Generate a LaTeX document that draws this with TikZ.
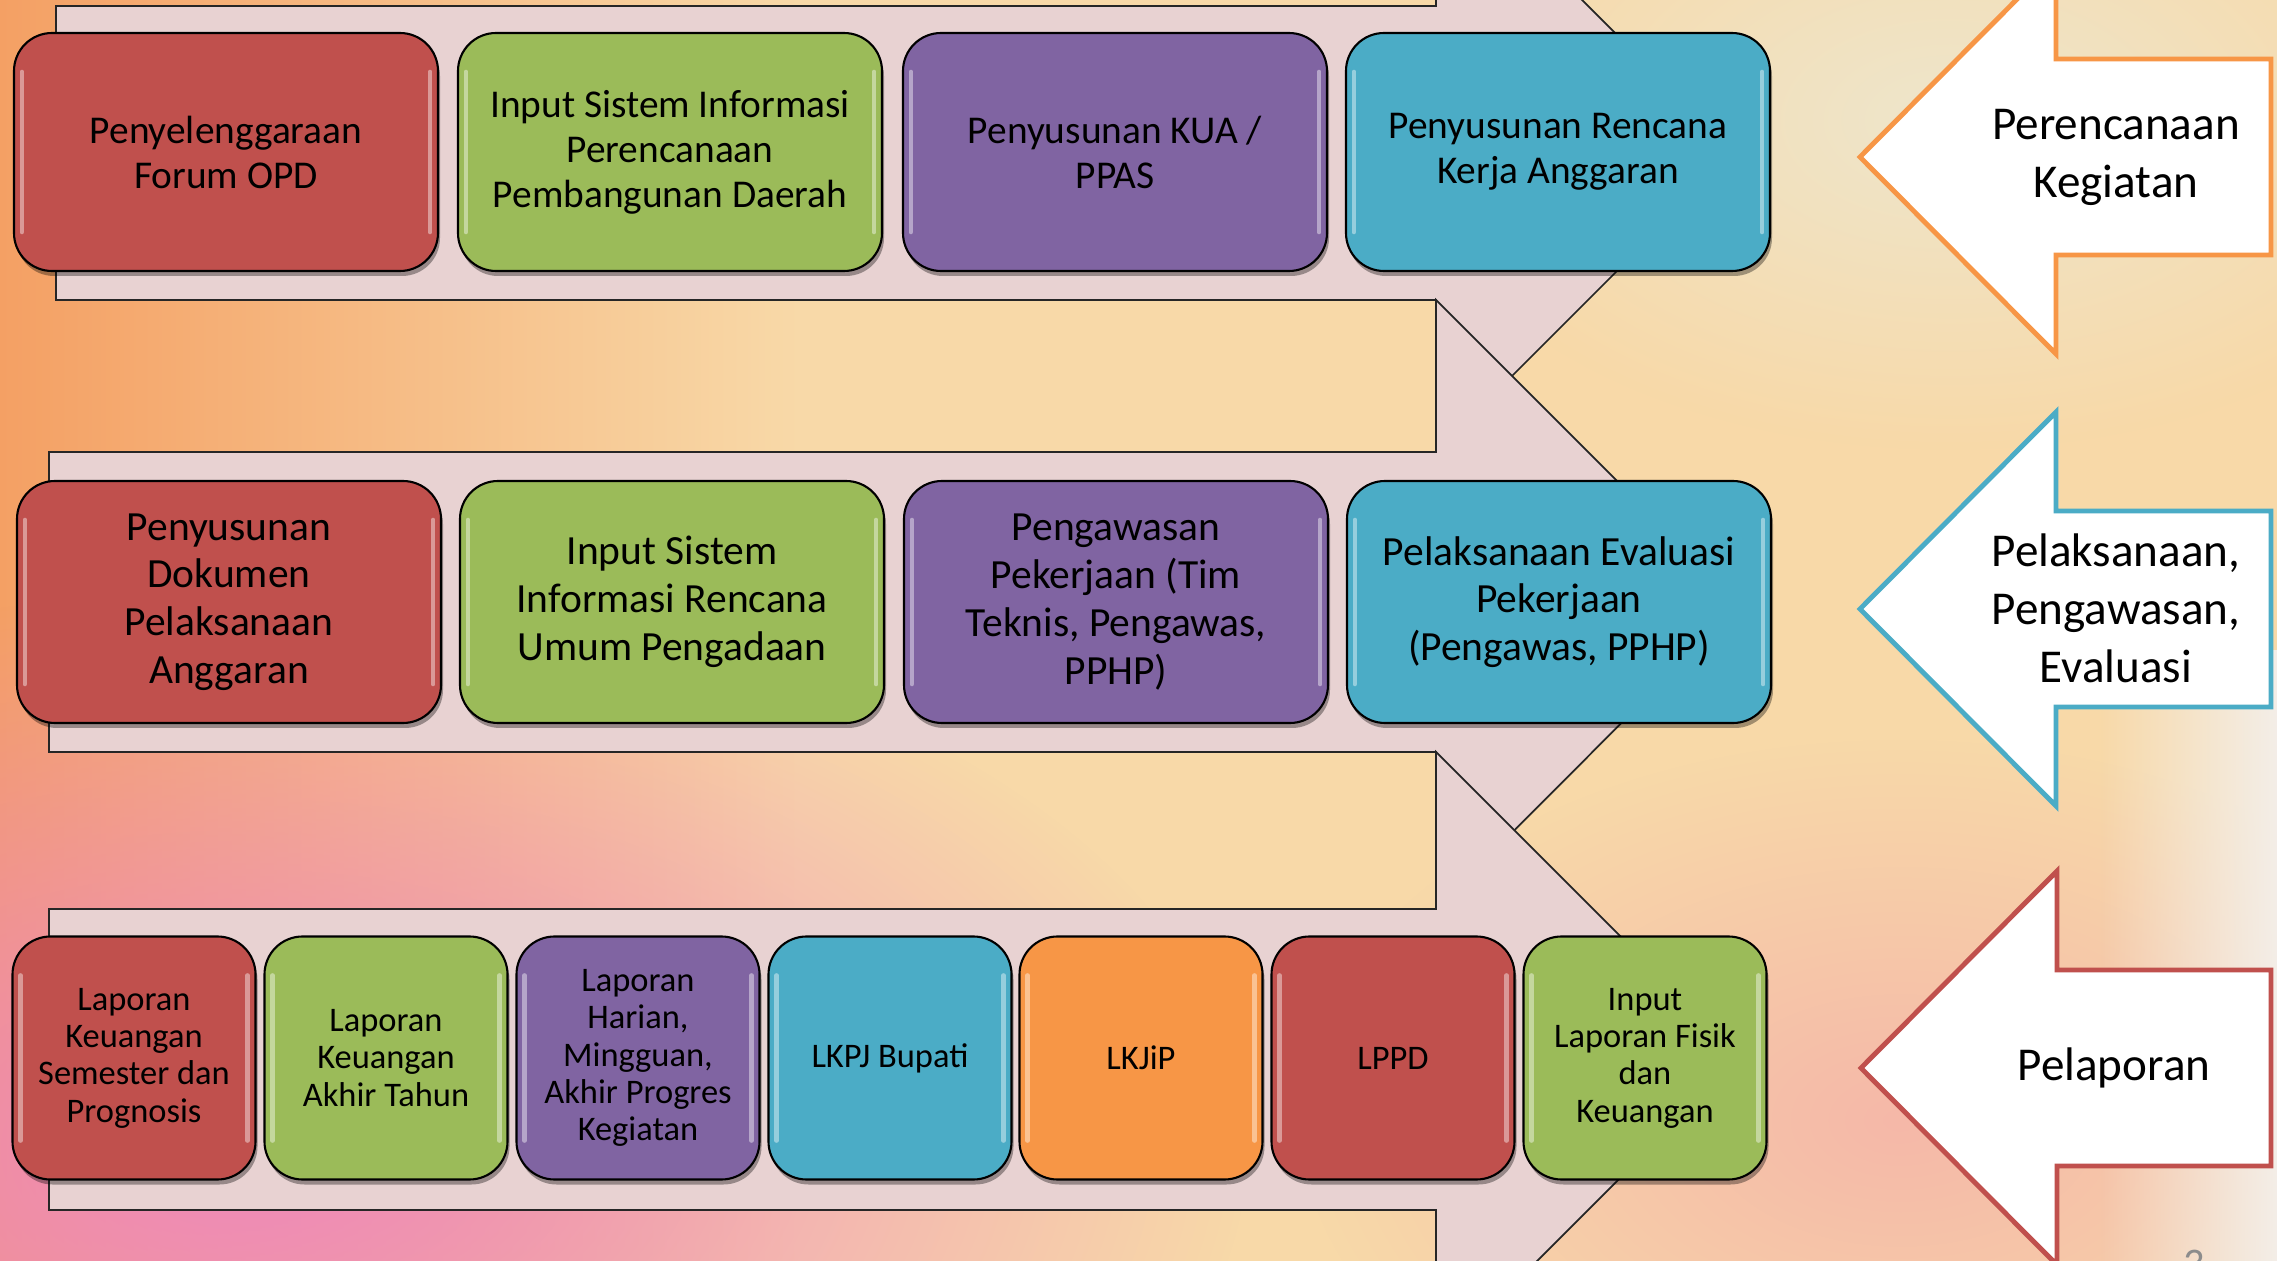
\documentclass[tikz,border=0pt]{standalone}
\usepackage{fontspec}
\setmainfont{Carlito}
\usetikzlibrary{shadows,fadings}
\definecolor{cRed}{HTML}{C0504D}
\definecolor{cGreen}{HTML}{9BBB59}
\definecolor{cPurple}{HTML}{8064A2}
\definecolor{cTeal}{HTML}{4BACC6}
\definecolor{cOrange}{HTML}{F79646}
\definecolor{bandPink}{HTML}{E8D2D2}
\definecolor{bgCream}{HTML}{F8D9A8}
\definecolor{bgOrange}{HTML}{F4A064}
\definecolor{bgLight}{HTML}{EEE6CC}
\definecolor{bgPink}{HTML}{EE88BC}
\definecolor{bgPeach}{HTML}{F5B8A8}
\definecolor{bgWhite}{HTML}{F3EEE8}
\tikzfading[name=faderight, left color=transparent!100, right color=transparent!0]
\tikzfading[name=blob, inner color=transparent!0, outer color=transparent!100]
\tikzset{
  band/.style={fill=bandPink, draw=black!85, line width=0.5pt, line join=miter},
  pbox/.style={draw=black, line width=0.6pt, rounded corners=0.38cm, align=center,
    text=black, inner sep=0pt,
    drop shadow={shadow xshift=0.02cm, shadow yshift=-0.05cm, opacity=0.35, fill=black}},
  gloss/.style={white, opacity=0.42, line width=1.3pt, line cap=round},
  r1/.style={font=\fontsize{11.2}{12.8}\selectfont},
  r2/.style={font=\fontsize{11.8}{13.6}\selectfont},
  r3/.style={font=\fontsize{9.8}{10.6}\selectfont},
  arrowshape/.style={fill=white, line width=1.4pt, line join=miter},
  arrtext/.style={font=\fontsize{13.4}{16.5}\selectfont, align=center, text=black, inner sep=0pt}
}
\newcommand\procbox[7][]{%
  \node[pbox,#1,fill=#6,minimum width=#4*0.01cm,minimum height=#5*0.01cm] (#2) at (#3) {#7};
  \draw[gloss] ([xshift=0.09cm,yshift=0.4cm]#2.south west) -- ([xshift=0.09cm,yshift=-0.4cm]#2.north west);
  \draw[gloss] ([xshift=-0.09cm,yshift=0.4cm]#2.south east) -- ([xshift=-0.09cm,yshift=-0.4cm]#2.north east);
}
\begin{document}
\begin{tikzpicture}[x=0.01cm,y=-0.01cm]
\useasboundingbox (0,0) rectangle (2277,1261);
\begin{scope}
\clip (0,0) rectangle (2277,1261);
% background
\fill[bgCream] (0,0) rectangle (2277,1261);
\shade[left color=bgOrange, right color=bgCream] (0,0) rectangle (800,1261);
\fill[bgLight, path fading=blob] (1950,120) ellipse [x radius=550, y radius=330];
\fill[bgPink, path fading=blob] (250,1150) ellipse [x radius=1000, y radius=560];
\fill[bgPeach, path fading=blob] (1900,1120) ellipse [x radius=600, y radius=380];
\fill[bgWhite, path fading=faderight] (2100,650) rectangle (2277,1261);
% pink process bands
\draw[band] (56,6) -- (1436,6) -- (1436,-146) -- (1735,153) -- (1436,452) -- (1436,300) -- (56,300) -- cycle;
\draw[band] (49,452) -- (1436,452) -- (1436,300) -- (1740,604) -- (1436,909) -- (1436,752) -- (49,752) -- cycle;
\draw[band] (49,909) -- (1436,909) -- (1436,752) -- (1741,1057) -- (1436,1362) -- (1436,1210) -- (49,1210) -- cycle;
% row 1
\procbox[r1]{a1}{226,152}{424}{238}{cRed}{Penyelenggaraan\\Forum OPD}
\procbox[r1]{a2}{670,152}{424}{238}{cGreen}{Input Sistem Informasi\\Perencanaan\\Pembangunan Daerah}
\procbox[r1]{a3}{1115,152}{424}{238}{cPurple}{Penyusunan KUA /\\PPAS}
\procbox[r1]{a4}{1558,152}{424}{238}{cTeal}{Penyusunan Rencana\\Kerja Anggaran}
% row 2
\procbox[r2]{b1}{229,602}{424}{242}{cRed}{Penyusunan\\Dokumen\\Pelaksanaan\\Anggaran}
\procbox[r2]{b2}{672,602}{424}{242}{cGreen}{Input Sistem\\Informasi Rencana\\Umum Pengadaan}
\procbox[r2]{b3}{1116,602}{424}{242}{cPurple}{Pengawasan\\Pekerjaan (Tim\\Teknis, Pengawas,\\PPHP)}
\procbox[r2]{b4}{1559,602}{424}{242}{cTeal}{Pelaksanaan Evaluasi\\Pekerjaan\\(Pengawas, PPHP)}
% row 3
\procbox[r3]{c1}{134,1058}{243}{243}{cRed}{Laporan\\Keuangan\\Semester dan\\Prognosis}
\procbox[r3]{c2}{386,1058}{243}{243}{cGreen}{Laporan\\Keuangan\\Akhir Tahun}
\procbox[r3]{c3}{638,1058}{243}{243}{cPurple}{Laporan\\Harian,\\Mingguan,\\Akhir Progres\\Kegiatan}
\procbox[r3]{c4}{890,1058}{243}{243}{cTeal}{LKPJ Bupati}
\procbox[r3]{c5}{1141,1058}{243}{243}{cOrange}{LKJiP}
\procbox[r3]{c6}{1393,1058}{243}{243}{cRed}{LPPD}
\procbox[r3]{c7}{1645,1058}{243}{243}{cGreen}{Input\\Laporan Fisik\\dan\\Keuangan}
% phase arrows
\draw[arrowshape, draw=cOrange] (1860,157) -- (2056,-40) -- (2056,59) -- (2271,59) -- (2271,255) -- (2056,255) -- (2056,354) -- cycle;
\node[arrtext] (p1) at (2116,157) {Perencanaan\\Kegiatan};
\draw[arrowshape, draw=cTeal] (1860,609) -- (2056,412) -- (2056,511) -- (2271,511) -- (2271,707) -- (2056,707) -- (2056,806) -- cycle;
\node[arrtext] (p2) at (2116,608) {Pelaksanaan,\\Pengawasan,\\Evaluasi};
\draw[arrowshape, draw=cRed] (1861,1068) -- (2057,871) -- (2057,970) -- (2271,970) -- (2271,1166) -- (2057,1166) -- (2057,1265) -- cycle;
\node[arrtext] (p3) at (2114,1068) {Pelaporan};
\node[text=black!45, font=\fontsize{12}{14}\selectfont, anchor=north, inner sep=0pt] (pg) at (2194,1249) {3};
\end{scope}
\end{tikzpicture}
\end{document}
